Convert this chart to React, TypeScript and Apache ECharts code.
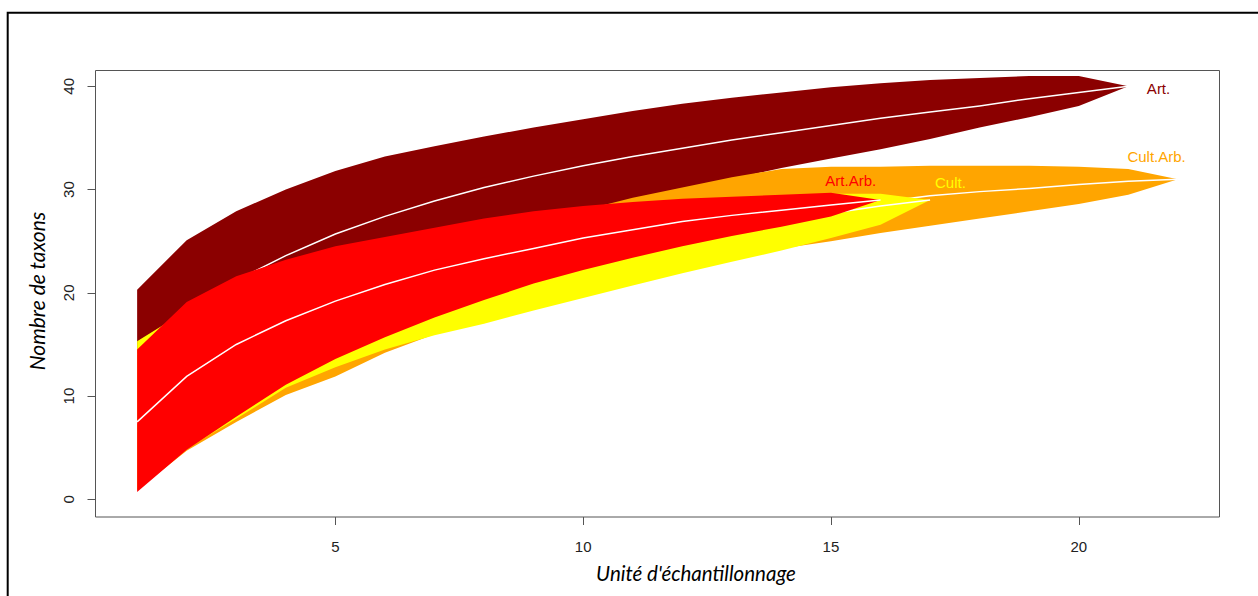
import React, { useEffect, useRef } from "react";
import * as echarts from "echarts";

// ---- data ----
const X_TICKS = [5, 10, 15, 20];
const Y_TICKS = [0, 10, 20, 30, 40];

const artX = [1, 2, 3, 4, 5, 6, 7, 8, 9, 10, 11, 12, 13, 14, 15, 16, 17, 18, 19, 20, 21];
const artUpper = [20.3, 25.1, 27.9, 30.0, 31.8, 33.2, 34.2, 35.15, 36.0, 36.8, 37.6, 38.3, 38.9, 39.4, 39.9, 40.3, 40.6, 40.8, 41.0, 41.0, 40.0];
const artMean = [14.0, 18.3, 21.2, 23.6, 25.7, 27.4, 28.9, 30.2, 31.3, 32.3, 33.2, 34.0, 34.8, 35.5, 36.2, 36.9, 37.5, 38.1, 38.8, 39.4, 40.0];
const artLower = [7.5, 12.0, 14.6, 17.0, 19.4, 21.5, 23.4, 25.2, 26.7, 28.0, 29.0, 29.9, 31.0, 32.1, 33.0, 33.9, 34.9, 36.0, 37.0, 38.1, 40.0];

const artArbX = [1, 2, 3, 4, 5, 6, 7, 8, 9, 10, 11, 12, 13, 14, 15, 16];
const artArbUpper = [14.5, 19.1, 21.6, 23.2, 24.5, 25.4, 26.3, 27.2, 27.9, 28.4, 28.8, 29.1, 29.3, 29.5, 29.7, 29.0];
const artArbMean = [7.5, 11.9, 15.0, 17.3, 19.2, 20.8, 22.2, 23.3, 24.3, 25.3, 26.1, 26.9, 27.5, 28.0, 28.5, 29.0];
const artArbLower = [0.7, 4.8, 8.0, 11.1, 13.6, 15.7, 17.6, 19.3, 20.9, 22.2, 23.4, 24.5, 25.5, 26.4, 27.4, 29.0];

const cultX = [1, 2, 3, 4, 5, 6, 7, 8, 9, 10, 11, 12, 13, 14, 15, 16, 17];
const cultUpper = [15.3, 18.3, 21.0, 22.8, 24.2, 25.2, 26.0, 26.8, 27.4, 28.0, 28.4, 28.8, 29.1, 29.4, 29.6, 29.6, 29.0];
const cultMean = [7.3, 11.5, 14.5, 16.8, 18.5, 19.9, 21.0, 22.0, 22.9, 23.8, 24.6, 25.4, 26.1, 26.9, 27.7, 28.4, 29.0];
const cultLower = [1.0, 4.9, 7.8, 10.8, 12.8, 14.5, 15.9, 17.0, 18.3, 19.5, 20.7, 21.9, 23.0, 24.1, 25.3, 26.6, 29.0];

const cultArbX = [1, 2, 3, 4, 5, 6, 7, 8, 9, 10, 11, 12, 13, 14, 15, 16, 17, 18, 19, 20, 21, 22];
const cultArbUpper = [13.0, 17.5, 20.5, 22.3, 23.7, 24.8, 25.8, 26.6, 27.3, 28.0, 29.2, 30.2, 31.2, 32.0, 32.2, 32.2, 32.3, 32.3, 32.3, 32.2, 32.0, 31.0];
const cultArbMean = [6.5, 10.8, 13.9, 16.2, 18.0, 19.6, 21.0, 22.2, 23.3, 24.2, 25.1, 26.0, 26.8, 27.5, 28.2, 28.8, 29.4, 29.8, 30.1, 30.5, 30.8, 31.0];
const cultArbLower = [0.9, 4.7, 7.5, 10.1, 11.9, 14.2, 16.0, 17.4, 18.7, 19.9, 21.1, 22.2, 23.3, 24.3, 25.0, 25.8, 26.5, 27.2, 27.9, 28.6, 29.5, 31.0];

const labelNames = ["Art.", "Cult.Arb.", "Art.Arb.", "Cult."];
const labelX = [21.61, 21.57, 15.40, 17.41];
const labelY = [39.74, 33.2, 30.9, 30.7];
const labelColors = ["#8B0000", "#FFA500", "#FF0000", "#FFFF00"];

const TICK_FONT = "Liberation Sans, Arial, sans-serif";

function bandSeries(name: string, color: string, xs: number[], upper: number[], mean: number[], lower: number[], z: number) {
  const rows = xs.map((x, i) => [x, lower[i], mean[i], upper[i]]);
  return {
    type: "custom",
    name,
    coordinateSystem: "cartesian2d",
    data: rows,
    z,
    silent: true,
    clip: false,
    encode: { x: 0, y: [1, 3] },
    renderItem: (params: any, api: any) => {
      if (params.dataIndex !== 0) return null;
      const top = rows.map((r) => api.coord([r[0], r[3]]));
      const bot = rows.map((r) => api.coord([r[0], r[1]])).reverse();
      const mid = rows.map((r) => api.coord([r[0], r[2]]));
      return {
        type: "group",
        children: [
          { type: "polygon", shape: { points: top.concat(bot) }, style: { fill: color, stroke: null } },
          { type: "polyline", shape: { points: mid }, style: { stroke: "#ffffff", lineWidth: 1.5, fill: null } },
        ],
      };
    },
  };
}

export default function App() {
  const ref = useRef<HTMLDivElement>(null);
  useEffect(() => {
    if (!ref.current) return;
    const chart = echarts.init(ref.current, null, { renderer: "svg" });
    const labelRows = labelNames.map((n, i) => [labelX[i], labelY[i], i]);
    const option: any = {
      animation: false,
      backgroundColor: "#ffffff",
      grid: {
        left: 95.5,
        top: 70.5,
        width: 1124,
        height: 446.5,
        show: true,
        borderColor: "#555555",
        borderWidth: 1,
        backgroundColor: "transparent",
      },
      xAxis: {
        type: "value",
        min: 0.16,
        max: 22.84,
        splitLine: { show: false },
        axisLine: { show: false, onZero: false },
        axisTick: { show: true, length: 8, lineStyle: { color: "#555555" }, customValues: X_TICKS },
        axisLabel: { customValues: X_TICKS, margin: 22, fontSize: 15, color: "#222222", fontFamily: TICK_FONT },
      },
      yAxis: {
        type: "value",
        min: -1.71,
        max: 41.53,
        splitLine: { show: false },
        axisLine: { show: false, onZero: false },
        axisTick: { show: true, length: 8, lineStyle: { color: "#555555" }, customValues: Y_TICKS },
        axisLabel: { customValues: Y_TICKS, rotate: 90, margin: 20, fontSize: 15, color: "#222222", fontFamily: TICK_FONT },
      },
      series: [
        bandSeries("Art.", "#8B0000", artX, artUpper, artMean, artLower, 2),
        bandSeries("Cult.Arb.", "#FFA500", cultArbX, cultArbUpper, cultArbMean, cultArbLower, 3),
        bandSeries("Cult.", "#FFFF00", cultX, cultUpper, cultMean, cultLower, 4),
        bandSeries("Art.Arb.", "#FF0000", artArbX, artArbUpper, artArbMean, artArbLower, 5),
        {
          type: "custom",
          coordinateSystem: "cartesian2d",
          data: labelRows,
          z: 6,
          silent: true,
          clip: false,
          encode: { x: 0, y: 1 },
          renderItem: (params: any, api: any) => {
            const i = api.value(2);
            const p = api.coord([api.value(0), api.value(1)]);
            return {
              type: "text",
              x: p[0],
              y: p[1],
              style: {
                text: labelNames[i],
                fill: labelColors[i],
                font: "15px " + TICK_FONT,
                align: "center",
                verticalAlign: "middle",
              },
            };
          },
        },
      ],
      graphic: [
        {
          type: "rect",
          shape: { x: 7.7, y: 12.8, width: 1300, height: 700 },
          style: { fill: "none", stroke: "#000000", lineWidth: 2 },
          silent: true,
        },
        {
          type: "text",
          x: 696,
          y: 573,
          style: {
            text: "Unité d'échantillonnage",
            font: "italic 20.5px Lato, sans-serif",
            fill: "#000000",
            align: "center",
            verticalAlign: "middle",
          },
        },
        {
          type: "text",
          x: 36,
          y: 291,
          rotation: Math.PI / 2,
          style: {
            text: "Nombre de taxons",
            font: "italic 21px Lato, sans-serif",
            fill: "#000000",
            align: "center",
            verticalAlign: "middle",
          },
        },
      ],
    };
    chart.setOption(option);
    return () => chart.dispose();
  }, []);
  return <div ref={ref} style={{ position: "fixed", left: 0, top: 0, width: 1258, height: 596 }} />;
}
